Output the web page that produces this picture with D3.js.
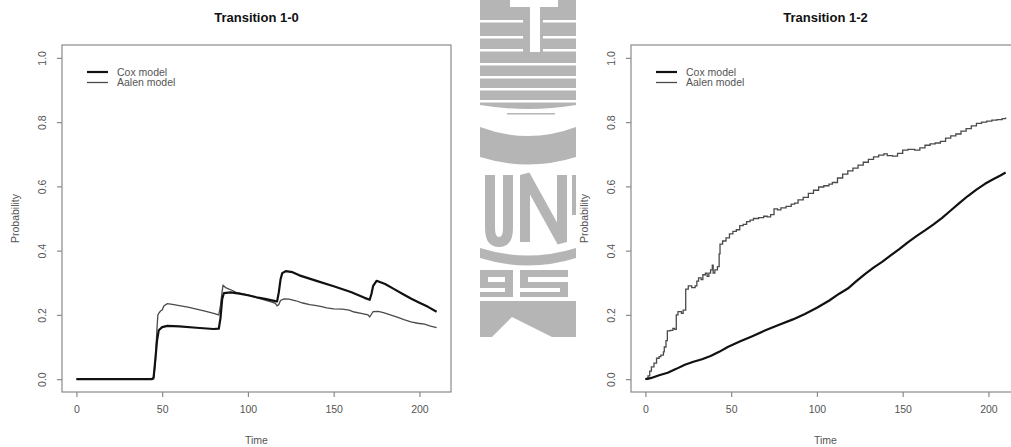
<!DOCTYPE html>
<html>
<head>
<meta charset="utf-8">
<script src="https://cdn.jsdelivr.net/npm/d3@7"></script>
<style>
  html, body { margin: 0; padding: 0; background: #fff; }
  svg { display: block; font-family: "Liberation Sans", Arial, sans-serif; }
</style>
</head>
<body>
<svg id="chart" width="1011" height="447"></svg>
<script>
// ---------------- data ----------------
const panelTitles = ["Transition 1-0", "Transition 1-2"];
const seriesNames = ["Cox model", "Aalen model"];
const xTicks = [0, 50, 100, 150, 200];
const yTicks = [0.0, 0.2, 0.4, 0.6, 0.8, 1.0];
const xLabel = "Time";
const yLabel = "Probability";

// Transition 1-0
const cox10 = [[0,0],[44,0],[45,0.005],[46,0.06],[47,0.12],[48,0.152],[50,0.162],[53,0.166],[60,0.164],[70,0.160],[80,0.156],[83,0.157],[84,0.19],[85,0.25],[86,0.268],[90,0.270],[95,0.266],[100,0.261],[105,0.255],[110,0.250],[116,0.243],[117,0.242],[118,0.27],[119,0.31],[120,0.330],[122,0.336],[126,0.333],[130,0.323],[140,0.306],[150,0.289],[160,0.271],[168,0.253],[171,0.247],[172,0.265],[173,0.29],[175,0.306],[180,0.296],[185,0.281],[190,0.266],[195,0.251],[200,0.238],[205,0.225],[210,0.210]];
const aalen10 = [[0,0],[45,0],[46,0.05],[47,0.16],[47.5,0.2],[48,0.205],[49,0.212],[50,0.215],[51,0.228],[53,0.235],[56,0.233],[60,0.229],[65,0.224],[70,0.218],[75,0.212],[80,0.205],[83,0.200],[84,0.23],[85,0.275],[85.5,0.292],[87,0.285],[89,0.280],[91,0.276],[93,0.270],[95,0.268],[100,0.262],[105,0.254],[110,0.246],[114,0.240],[116,0.236],[117,0.228],[118,0.232],[119,0.245],[121,0.250],[124,0.249],[128,0.244],[132,0.237],[136,0.232],[140,0.229],[143,0.226],[146,0.222],[150,0.219],[155,0.218],[159,0.215],[162,0.209],[166,0.205],[170,0.200],[171,0.194],[172,0.202],[173,0.210],[176,0.211],[179,0.207],[183,0.200],[187,0.193],[191,0.185],[195,0.178],[199,0.174],[203,0.171],[206,0.166],[210,0.160]];

// Transition 1-2
const cox12 = [[0,0],[3,0.003],[8,0.012],[13,0.02],[18,0.032],[23,0.045],[28,0.054],[33,0.062],[38,0.072],[43,0.085],[48,0.1],[55,0.117],[62,0.133],[70,0.152],[78,0.169],[86,0.186],[93,0.203],[100,0.222],[107,0.244],[113,0.266],[118,0.282],[123,0.305],[128,0.327],[133,0.347],[138,0.365],[143,0.385],[148,0.405],[153,0.426],[158,0.445],[163,0.463],[168,0.482],[173,0.502],[178,0.525],[183,0.548],[188,0.570],[193,0.590],[198,0.608],[203,0.623],[207,0.634],[210,0.643]];
const aalen12 = [[0,0],[1.5,0.01],[2.5,0.025],[3.5,0.038],[5,0.05],[6.5,0.065],[8,0.07],[9,0.075],[10.5,0.085],[11,0.1],[12,0.12],[12.8,0.15],[14.5,0.152],[16,0.158],[17,0.155],[18,0.2],[19,0.21],[21,0.205],[22,0.215],[23.5,0.28],[25,0.29],[27,0.285],[29,0.29],[30,0.305],[31,0.315],[32.5,0.31],[33.5,0.325],[35,0.33],[36,0.32],[37,0.33],[38,0.34],[39,0.355],[39.5,0.33],[40.5,0.34],[42,0.35],[43,0.39],[43.5,0.42],[45,0.43],[47,0.44],[49,0.452],[51,0.46],[53,0.465],[55,0.478],[57,0.482],[59,0.49],[61,0.495],[63,0.5],[66,0.503],[69,0.507],[71,0.505],[73,0.512],[75,0.53],[77,0.527],[79,0.533],[82,0.538],[85,0.545],[87,0.548],[89,0.558],[92,0.566],[95,0.578],[98,0.588],[101,0.598],[104,0.602],[107,0.607],[109,0.612],[112,0.626],[115,0.638],[118,0.648],[121,0.657],[124,0.666],[127,0.675],[130,0.684],[133,0.692],[136,0.697],[139,0.701],[141,0.696],[144,0.694],[147,0.703],[150,0.713],[153,0.715],[157,0.713],[160,0.72],[163,0.728],[166,0.732],[169,0.735],[172,0.74],[175,0.75],[178,0.757],[181,0.763],[184,0.772],[187,0.78],[190,0.788],[193,0.796],[196,0.8],[199,0.803],[202,0.806],[205,0.808],[208,0.811],[210,0.814]];

const panels = [
  { title: panelTitles[0], cox: cox10, aalen: aalen10, aalenStep: false, left: 62 },
  { title: panelTitles[1], cox: cox12, aalen: aalen12, aalenStep: true, left: 631 }
];

// ---------------- drawing ----------------
const svg = d3.select("#chart");
const boxW = 389, plotTop = 45, plotBottom = 392;
const axisColor = "#8a8a8a", textColor = "#555", wmColor = "#b5b5b5";

// background watermark (decorative)
(function watermark() {
  const g = svg.append("g").attr("fill", wmColor);
  g.append("path").attr("d", "M480,0 L576,0 L576,105 Q528,113 480,105 Z");
  const w = svg.append("g").attr("fill", "#fff");
  [20, 36, 49].forEach(yy => {
    w.append("rect").attr("x", 480).attr("y", yy).attr("width", 43).attr("height", 2.5);
    w.append("rect").attr("x", 543).attr("y", yy).attr("width", 33).attr("height", 2.5);
  });
  [63, 76, 88, 100].forEach(yy => {
    w.append("rect").attr("x", 480).attr("y", yy).attr("width", 96).attr("height", 2.5);
  });
  w.append("rect").attr("x", 530).attr("y", 0).attr("width", 10).attr("height", 52);
  w.append("rect").attr("x", 510).attr("y", 0).attr("width", 48).attr("height", 7);
  const g2 = svg.append("g").attr("fill", wmColor);
  g2.append("rect").attr("x", 507).attr("y", 113).attr("width", 48).attr("height", 1.5);
  g2.append("path").attr("d", "M480,127 Q528,145 576,127 L576,157 Q528,172 480,157 Z");
  g2.append("path").attr("d", "M490,175 L490,228 Q490,242 499,242 Q508,242 508,228 L508,175")
    .attr("fill", "none").attr("stroke", wmColor).attr("stroke-width", 10);
  g2.append("path").attr("d", "M525,242 L525,175 L562,242 L562,175")
    .attr("fill", "none").attr("stroke", wmColor).attr("stroke-width", 10);
  g2.append("rect").attr("x", 572).attr("y", 175).attr("width", 4).attr("height", 40);
  g2.append("path").attr("d", "M480,248 Q528,263 576,248 L576,258 Q528,273 480,258 Z");
  g2.append("path").attr("fill-rule", "evenodd")
    .attr("d", "M480,270 L513,270 L513,297 L480,297 L480,292 L505,292 L505,288 L480,288 Z M488,277 L505,277 L505,282 L488,282 Z");
  g2.append("path")
    .attr("d", "M520,270 L568,270 L568,277 L528,277 L528,282 L568,282 L568,297 L520,297 L520,292 L560,292 L560,288 L520,288 Z");
  g2.append("path").attr("d", "M480,301 L576,301 L576,337 L552,337 L512,317 L492,337 L480,337 Z");
})();

panels.forEach(p => {
  const x = d3.scaleLinear().domain([-8.4, 218.4]).range([p.left, p.left + boxW]);
  const y = d3.scaleLinear().domain([-0.04, 1.04]).range([plotBottom, plotTop]);
  const g = svg.append("g");
  const cx = p.left + boxW / 2;

  g.append("text").attr("x", cx).attr("y", 22).attr("text-anchor", "middle")
    .attr("font-size", 13).attr("font-weight", "bold").attr("fill", "#111").text(p.title);

  g.append("rect").attr("x", p.left).attr("y", plotTop).attr("width", boxW).attr("height", plotBottom - plotTop)
    .attr("fill", "none").attr("stroke", axisColor).attr("stroke-width", 1.2);

  const xa = g.append("g").attr("transform", `translate(0,${plotBottom})`)
    .call(d3.axisBottom(x).tickValues(xTicks).tickSize(5).tickPadding(9).tickSizeOuter(0));
  xa.select(".domain").remove();
  xa.selectAll("line").attr("stroke", axisColor).attr("stroke-width", 1.2);
  xa.selectAll("text").attr("fill", textColor).attr("font-size", 10.5)
    .attr("font-family", "Liberation Sans, Arial, sans-serif");

  const ya = g.append("g").attr("transform", `translate(${p.left},0)`)
    .call(d3.axisLeft(y).tickValues(yTicks).tickFormat(d3.format(".1f")).tickSize(5).tickSizeOuter(0));
  ya.select(".domain").remove();
  ya.selectAll("line").attr("stroke", axisColor).attr("stroke-width", 1.2);
  ya.selectAll("text").attr("fill", textColor).attr("font-size", 10.5)
    .attr("font-family", "Liberation Sans, Arial, sans-serif")
    .attr("text-anchor", "middle").attr("x", 0).attr("y", 0).attr("dy", "0.35em")
    .attr("transform", "translate(-20,0) rotate(-90)");

  g.append("text").attr("x", cx).attr("y", 444).attr("text-anchor", "middle")
    .attr("font-size", 10.5).attr("fill", textColor).text(xLabel);
  g.append("text").attr("transform", `translate(${p.left - 43},${(plotTop + plotBottom) / 2}) rotate(-90)`)
    .attr("text-anchor", "middle").attr("font-size", 10.5).attr("fill", textColor).text(yLabel);

  const line = d3.line().x(d => x(d[0])).y(d => y(d[1]));
  const stepLine = d3.line().x(d => x(d[0])).y(d => y(d[1])).curve(d3.curveStepAfter);
  g.append("path").datum(p.aalen).attr("fill", "none").attr("stroke", "#4a4a4a").attr("stroke-width", 1.3)
    .attr("d", p.aalenStep ? stepLine : line);
  g.append("path").datum(p.cox).attr("fill", "none").attr("stroke", "#111").attr("stroke-width", 2.2)
    .attr("stroke-linejoin", "round").attr("d", line);

  const lg = g.append("g").attr("transform", `translate(${p.left + 25},72)`);
  const styles = [{ c: "#111", w: 2.2 }, { c: "#4a4a4a", w: 1.3 }];
  seriesNames.forEach((name, i) => {
    lg.append("line").attr("x1", 0).attr("x2", 21).attr("y1", i * 10.5).attr("y2", i * 10.5)
      .attr("stroke", styles[i].c).attr("stroke-width", styles[i].w);
    lg.append("text").attr("x", 30).attr("y", i * 10.5 + 3.8).attr("font-size", 10.5)
      .attr("fill", textColor).text(name);
  });
});
</script>
</body>
</html>
